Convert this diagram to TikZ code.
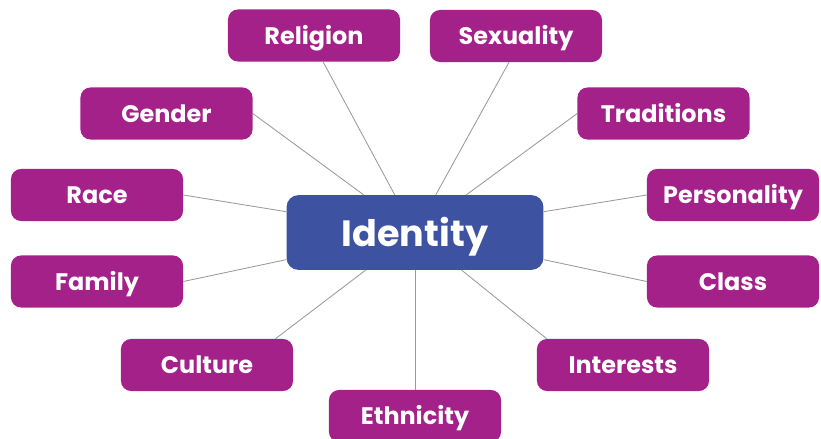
\documentclass[tikz,border=0pt]{standalone}
\usepackage{fontspec}
\setmainfont{Poppins}
\definecolor{plum}{HTML}{A4218A}
\definecolor{hubblue}{HTML}{3D52A1}

\begin{document}
\begin{tikzpicture}[x=0.025cm,y=-0.025cm,
		topic/.style={fill=plum, text=white, rounded corners=0.25cm, minimum width=4.3cm, minimum height=1.3cm, text height=12.6pt, text depth=0pt, font=\bfseries\fontsize{17}{20}\selectfont},
		hub/.style={fill=hubblue, text=white, rounded corners=0.3cm, minimum width=6.42cm, minimum height=1.87cm, text height=19.2pt, text depth=0pt, font=\bfseries\fontsize{26}{30}\selectfont},
		link/.style={draw=black!40, line width=0.6pt}
		]
		\useasboundingbox (0,0) rectangle (821,439);
		\node [hub] (identity) at (415,232.5) {Identity};
		\node [topic] (religion) at (314,35.5) {Religion};
		\node [topic] (sexuality) at (516,36) {Sexuality};
		\node [topic] (gender) at (166.5,113.5) {Gender};
		\node [topic] (traditions) at (663.5,113.5) {Traditions};
		\node [topic] (race) at (97,195) {Race};
		\node [topic] (personality) at (733,195) {Personality};
		\node [topic] (family) at (97,281.5) {Family};
		\node [topic] (class) at (733,281.5) {Class};
		\node [topic] (culture) at (207,365) {Culture};
		\node [topic] (interests) at (623,365) {Interests};
		\node [topic] (ethnicity) at (415,416) {Ethnicity};
		% spokes out of the hub
		\draw [link] (identity) -- (religion.-71);
		\draw [link] (identity) -- (sexuality.-105);
		\draw [link] (identity) -- (gender.east);
		\draw [link] (identity) -- (traditions.west);
		\draw [link] (identity) -- (race.east);
		\draw [link] (identity) -- (personality.west);
		\draw [link] (identity) -- (family.east);
		\draw [link] (identity) -- (class.west);
		\draw [link] (identity) -- (culture.21);
		\draw [link] (identity) -- (interests.161);
		\draw [link] (identity) -- (ethnicity.north);
	\end{tikzpicture}
\end{document}
